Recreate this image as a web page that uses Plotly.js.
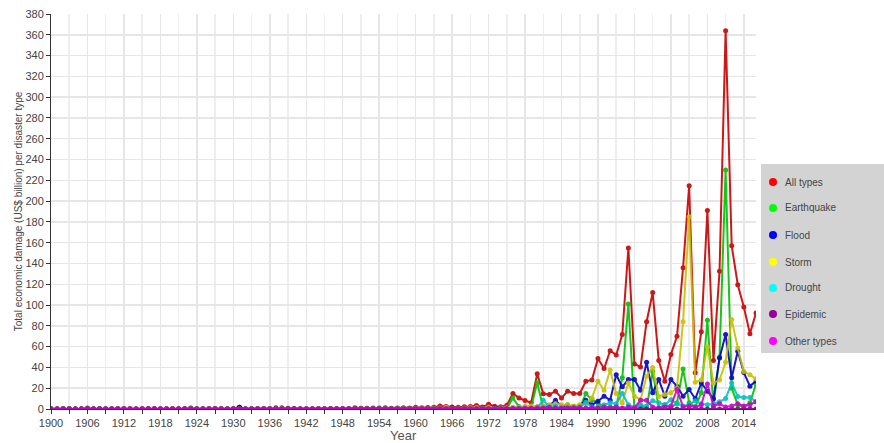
<!DOCTYPE html>
<html>
<head>
<meta charset="utf-8">
<script src="https://cdn.plot.ly/plotly-3.0.1.min.js"></script>
<style>html,body{margin:0;padding:0;background:#fff;}#chart{width:884px;height:443px;}</style>
</head>
<body>
<div id="chart"></div>
<script>
const years = [
1900,1901,1902,1903,1904,1905,1906,1907,1908,1909,
1910,1911,1912,1913,1914,1915,1916,1917,1918,1919,
1920,1921,1922,1923,1924,1925,1926,1927,1928,1929,
1930,1931,1932,1933,1934,1935,1936,1937,1938,1939,
1940,1941,1942,1943,1944,1945,1946,1947,1948,1949,
1950,1951,1952,1953,1954,1955,1956,1957,1958,1959,
1960,1961,1962,1963,1964,1965,1966,1967,1968,1969,
1970,1971,1972,1973,1974,1975,1976,1977,1978,1979,
1980,1981,1982,1983,1984,1985,1986,1987,1988,1989,
1990,1991,1992,1993,1994,1995,1996,1997,1998,1999,
2000,2001,2002,2003,2004,2005,2006,2007,2008,2009,
2010,2011,2012,2013,2014,2015,2016];

const allTypes = [
0.3,0.1,0.6,0.4,0.1,0.3,1.0,0.2,0.5,0.3,
0.2,0.3,0.4,0.2,0.1,0.3,0.2,0.4,0.3,0.2,
0.5,0.2,0.3,1.0,0.3,0.2,0.4,0.6,0.5,0.3,
0.4,1.8,0.3,0.5,0.6,0.5,0.6,1.2,1.1,0.8,
0.4,0.3,0.2,0.3,0.5,0.4,0.6,0.4,0.5,0.6,
1.1,0.8,0.7,0.9,1.0,1.1,0.8,1.0,1.2,1.0,
1.8,1.2,1.5,1.7,2.8,2.5,2.0,1.6,2.2,2.4,
3.4,2.0,4.5,2.6,2.2,3.5,14.9,10.7,8.2,6.0,
33.8,14.6,13.9,17.1,10.7,17.1,14.9,14.9,26.7,28.0,
48.5,38.9,56.0,52.0,71.6,155.0,43.4,40.5,84.0,112.0,
46.6,26.7,52.4,70.0,136.0,214.7,34.8,74.2,191.0,46.6,
132.4,364.0,157.0,119.6,98.2,72.5,92.4];

const earthquake = [
0,0,0.1,0.2,0,0,0.8,0.1,0.3,0,
0,0,0,0,0,0,0,0,0,0,
0.2,0,0,0.8,0,0.1,0,0.2,0.1,0,
0.1,0.3,0,0.2,0.3,0.2,0,0.1,0,0.6,
0.1,0,0,0.1,0.2,0.1,0.2,0,0.3,0.1,
0,0,0.3,0.1,0.2,0,0.1,0.2,0.1,0.1,
0.6,0.1,0.3,0.3,1.5,0.1,0.3,0.3,0.6,0.1,
0.8,0.6,0.8,0.3,0.2,0.5,10.7,2.0,1.0,1.5,
25.2,1.0,0.5,1.0,0.8,4.0,1.5,1.0,14.9,9.0,
6.0,2.0,2.0,2.0,30.0,101.0,0.5,3.0,0.5,36.0,
1.0,4.0,1.0,6.0,38.6,6.0,2.0,15.6,85.3,3.0,
50.0,230.0,20.0,4.0,2.0,6.0,24.0];

const flood = [
0.1,0,0.2,0.1,0,0.1,0,0.1,0,0.1,
0.1,0.2,0.1,0,0.1,0.1,0.2,0.1,0,0.1,
0.1,0.1,0.2,0.1,0.1,0,0.1,0.2,0.1,0.1,
0.1,1.8,0.1,0.1,0.2,0.2,0.2,0.5,0.6,0.1,
0.1,0.1,0.1,0.1,0.1,0.1,0.2,0.2,0.1,0.3,
0.6,0.3,0.2,0.4,0.4,0.6,0.3,0.4,0.5,0.4,
0.3,0.2,0.4,0.3,0.5,0.4,1.0,0.6,0.5,0.8,
0.6,0.4,1.5,1.2,0.8,0.9,1.2,2.0,2.0,1.5,
2.0,2.5,3.0,8.5,2.5,3.0,2.5,3.0,8.5,4.0,
7.5,12.3,8.5,33.0,21.3,28.3,28.3,18.0,45.0,15.6,
28.3,12.3,28.3,22.0,12.3,18.7,9.8,25.0,17.0,9.8,
49.0,71.6,30.0,55.5,35.0,22.0,27.0];

const storm = [
0.1,0.1,0.2,0.1,0.1,0.1,0.1,0,0.1,0.1,
0.1,0,0.1,0.1,0,0.1,0,0.1,0.1,0,
0.1,0,0.1,0,0.1,0.1,0.2,0.1,0.2,0.1,
0.1,0.1,0.1,0.2,0.1,0.2,0.2,0.2,0.4,0.1,
0.1,0.1,0.1,0.1,0.2,0.2,0.1,0.2,0.1,0.2,
0.3,0.3,0.2,0.3,0.3,0.4,0.3,0.4,0.4,0.4,
0.6,0.5,0.5,0.7,0.5,1.6,0.4,0.6,0.7,1.2,
1.5,0.6,1.8,0.8,1.0,1.3,1.5,2.0,2.5,3.0,
2.0,3.0,4.0,5.0,4.0,4.0,3.0,4.0,5.0,10.7,
26.7,18.0,37.5,15.0,6.0,25.0,12.3,9.0,31.5,40.0,
12.0,14.0,15.6,20.0,84.0,185.0,25.7,28.0,60.0,25.0,
28.0,45.0,86.0,58.8,36.0,33.0,29.0];

const drought = [
0,0,0,0,0,0,0,0,0,0,
0,0,0,0,0,0,0,0,0,0,
0,0,0,0,0,0,0,0,0,0,
0,0,0,0,0,0,0,0,0,0,
0,0,0,0,0,0,0,0,0,0,
0,0,0,0,0,0,0,0,0,0,
0,0,0,0,0.1,0,0.1,0,0,0.1,
0.2,0,0.3,0,0.2,0.3,0.5,0.8,0.4,0.6,
1.0,8.5,2.0,3.0,1.0,1.5,1.0,1.5,6.5,2.0,
2.0,4.0,6.0,5.0,15.0,4.0,2.0,4.0,3.0,8.0,
6.0,4.0,9.0,5.0,3.0,4.0,8.0,5.0,4.0,5.0,
7.0,10.0,25.0,12.0,11.0,11.0,7.0];

const epidemic = [
0,0,0,0,0,0,0,0,0,0,
0,0,0,0,0,0,0,0,0,0,
0,0,0,0,0,0,0,0,0,0,
0,0,0,0,0,0,0,0,0,0,
0,0,0,0,0,0,0,0,0,0,
0,0,0,0,0,0,0,0,0,0,
0,0,0,0,0,0,0,0,0,0,
0,0,0,0,0,0,0,0,0,0,
0,0,0,0,0,0,0,0,0,0,
0,0,0,0,0,0,0,0,0,0,
0,0,0,0,0,0,0,0,0,0,
0,0,0,0,0,0,0];

const otherTypes = [
0.1,0,0.1,0,0,0,0.2,0,0.1,0,
0,0,0,0,0,0,0,0,0,0,
0.1,0,0,0.2,0,0,0,0,0,0,
0,0,0,0,0,0,0,0,0,0,
0,0,0,0,0,0,0,0,0,0,
0,0,0,0,0,0,0,0,0,0,
0.2,0.1,0.2,0.1,0.3,0.2,0.2,0.1,0.3,0.2,
0.3,0.2,0.3,0.2,0.3,0.4,0.5,0.6,0.5,0.7,
1.0,1.0,1.5,1.2,0.8,1.0,1.2,1.5,1.0,1.2,
1.0,2.0,1.0,2.0,1.0,2.0,1.0,8.5,8.5,2.0,
1.0,2.0,3.0,18.7,2.0,3.0,2.0,4.0,24.0,3.0,
5.0,2.0,3.0,5.0,3.0,4.0,7.0];

const seriesNames = ["All types","Earthquake","Flood","Storm","Drought","Epidemic","Other types"];
const seriesValues = [allTypes, earthquake, flood, storm, drought, epidemic, otherTypes];
const lineColors = ["#c80000","#00c000","#0000c8","#c8c000","#00c0c0","#800080","#cc00cc"];
const legendColors = ["#ff0000","#00ff00","#0000ff","#ffff00","#00ffff","#990099","#ff00ff"];

const W = 884, H = 443;
const M = {l: 51, r: 128, t: 14, b: 34};
const pw = W - M.l - M.r, ph = H - M.t - M.b;
const px2x = px => (px - M.l) / pw;
const py2y = py => (H - M.b - py) / ph;

const traces = seriesNames.map((name, i) => ({
  x: years, y: seriesValues[i], name: name, type: "scatter", mode: "lines+markers",
  line: {color: lineColors[i], width: 2},
  marker: {color: lineColors[i], size: 5},
  opacity: 0.9, showlegend: false
}));

const font = "Liberation Sans, Arial, sans-serif";

// custom legend panel (box, markers, labels)
const legendRows = [182, 208, 235, 262, 288, 314, 341];
const shapes = [{
  type: "rect", xref: "paper", yref: "paper", layer: "above",
  x0: px2x(761), x1: px2x(886), y0: py2y(353), y1: py2y(164),
  fillcolor: "#d3d3d3", line: {width: 0}
}];
const annotations = [];
seriesNames.forEach((name, i) => {
  const yc = py2y(legendRows[i]);
  shapes.push({
    type: "circle", xref: "paper", yref: "paper", layer: "above",
    xsizemode: "pixel", ysizemode: "pixel",
    xanchor: px2x(773), yanchor: yc, x0: -4, x1: 4, y0: -4, y1: 4,
    fillcolor: legendColors[i], line: {width: 0}
  });
  annotations.push({
    xref: "paper", yref: "paper", x: px2x(783), y: yc,
    xanchor: "left", yanchor: "middle", showarrow: false,
    text: name, font: {family: font, size: 10, color: "#444"}
  });
});
// x-axis title placed just under the tick labels
annotations.push({
  xref: "paper", yref: "paper", x: px2x(403), y: py2y(444),
  xanchor: "center", yanchor: "bottom", showarrow: false,
  text: "Year", font: {family: font, size: 13, color: "#555"},
  borderpad: 0
});

const layout = {
  width: W, height: H,
  margin: {l: M.l, r: M.r, t: M.t, b: M.b, pad: 0},
  paper_bgcolor: "#ffffff", plot_bgcolor: "#ffffff",
  font: {family: font, size: 11, color: "#444"},
  showlegend: false,
  shapes: shapes,
  annotations: annotations,
  xaxis: {
    range: [1900, 2016], tick0: 1900, dtick: 6,
    ticks: "outside", ticklen: 4, tickcolor: "#333", tickwidth: 1,
    showline: true, linecolor: "#333", linewidth: 1,
    showgrid: true, gridcolor: "#e6e6e6", gridwidth: 1.5,
    minor: {dtick: 3, tick0: 1900, ticks: "outside", ticklen: 4, tickcolor: "#333", showgrid: true, gridcolor: "#eeeeee", gridwidth: 1.5},
    zeroline: false,
    tickfont: {family: font, size: 11, color: "#444"}
  },
  yaxis: {
    range: [0, 380], tick0: 0, dtick: 20,
    ticks: "outside", ticklen: 4, tickcolor: "#333", tickwidth: 1,
    showline: true, linecolor: "#333", linewidth: 1,
    showgrid: true, gridcolor: "#e6e6e6", gridwidth: 1.5,
    zeroline: false,
    tickfont: {family: font, size: 11, color: "#444"},
    title: {text: "Total economic damage (US$ billion) per disaster type", font: {family: font, size: 10, color: "#444"}, standoff: 0}
  }
};

Plotly.newPlot("chart", traces, layout, {displayModeBar: false, staticPlot: true});
</script>
</body>
</html>
